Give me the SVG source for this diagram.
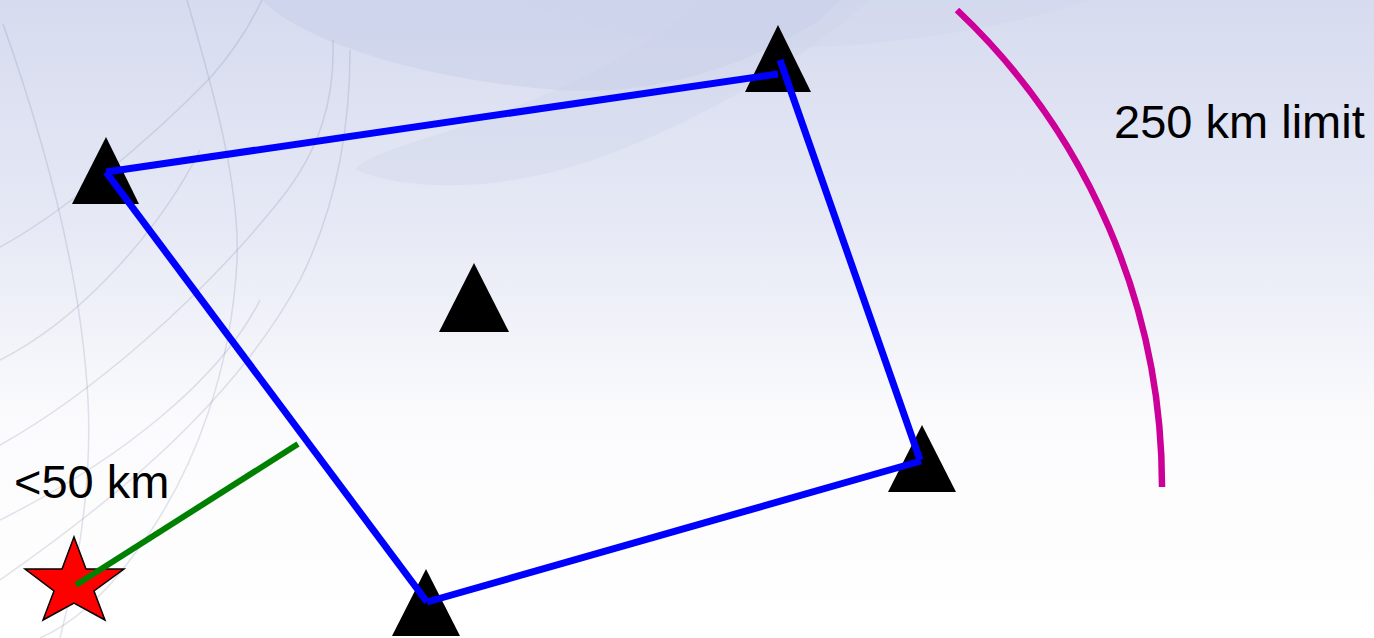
<svg xmlns="http://www.w3.org/2000/svg" width="1374" height="638" viewBox="0 0 1374 638">
  <defs>
    <linearGradient id="bg" x1="0" y1="0" x2="0" y2="1">
      <stop offset="0" stop-color="#d6dbef"/>
      <stop offset="0.35" stop-color="#e6e9f5"/>
      <stop offset="0.66" stop-color="#fbfbfd"/>
      <stop offset="1" stop-color="#ffffff"/>
    </linearGradient>
  </defs>
  <style>
    .grid { fill: none; stroke: #8a8fb0; stroke-opacity: 0.25; stroke-width: 1.5; }
    .tri { fill: #000000; }
    .edge { stroke: #0000ff; stroke-width: 7; fill: none; }
    .label { font-family: "Liberation Sans", Arial, sans-serif; font-size: 47px; fill: #000000; }
  </style>

  <g id="background">
    <rect x="0" y="0" width="1374" height="638" fill="url(#bg)"/>
    <path d="M262,0 C300,40 420,80 560,90 C650,96 740,70 820,20 L840,0 Z" fill="#c3cbe6" fill-opacity="0.4"/>
    <path d="M355,170 C420,195 520,190 620,150 C720,110 800,60 870,0 L700,0 C640,60 520,110 420,140 C390,150 360,160 355,170 Z" fill="#c9cfe8" fill-opacity="0.3"/>
    <path d="M520,0 C600,40 750,60 900,40 C1000,28 1060,10 1090,0 Z" fill="#cdd3eb" fill-opacity="0.3"/>
    <path class="grid" d="M0,247 C60,215 150,140 210,78 C235,50 250,25 262,0"/>
    <path class="grid" d="M0,445 C90,395 200,300 280,200 C320,150 335,100 333,40"/>
    <path class="grid" d="M0,580 C100,510 230,410 300,280 C340,200 350,120 350,50"/>
    <path class="grid" d="M3,24 C30,100 80,250 88,400 C92,480 80,560 60,638"/>
    <path class="grid" d="M187,0 C210,80 240,180 237,260 C232,360 200,470 130,560 C100,600 70,625 40,638"/>
    <path class="grid" d="M0,360 C80,320 160,230 200,150"/>
    <path class="grid" d="M0,520 C120,460 220,380 260,300"/>
  </g>

  <g id="station-top-left"><polygon class="tri" points="106,137 139,204 72,204"/></g>
  <g id="station-top-right"><polygon class="tri" points="778,25 811,92 745,92"/></g>
  <g id="station-center"><polygon class="tri" points="474,263 509,332 439,332"/></g>
  <g id="station-right"><polygon class="tri" points="922,425 956,492 888,492"/></g>
  <g id="station-bottom"><polygon class="tri" points="426,569 460,636 392,636"/></g>

  <g id="epicenter">
    <polygon points="74,537 86,569 124,569 94,591 105,620 74,603 43,620 54,591 25,569 62,569" fill="#ff0000" stroke="#000000" stroke-width="1.5" stroke-linejoin="miter"/>
  </g>

  <g id="connectors">
    <line class="edge" x1="106" y1="172" x2="778" y2="74"/>
    <line class="edge" x1="780" y1="60" x2="920" y2="460"/>
    <line class="edge" x1="921" y1="461" x2="427" y2="602"/>
    <line class="edge" x1="106" y1="172" x2="427" y2="602"/>
    <line id="distance" x1="76" y1="585" x2="298" y2="444" stroke="#008000" stroke-width="6"/>
    <path id="limit-arc" d="M957,10 A655,655 0 0 1 1162,487" fill="none" stroke="#cc0099" stroke-width="6.5"/>
  </g>

  <g id="label-50km"><text class="label" x="14" y="498">&lt;50 km</text></g>
  <g id="label-250km"><text class="label" x="1114" y="138">250 km limit</text></g>
</svg>
